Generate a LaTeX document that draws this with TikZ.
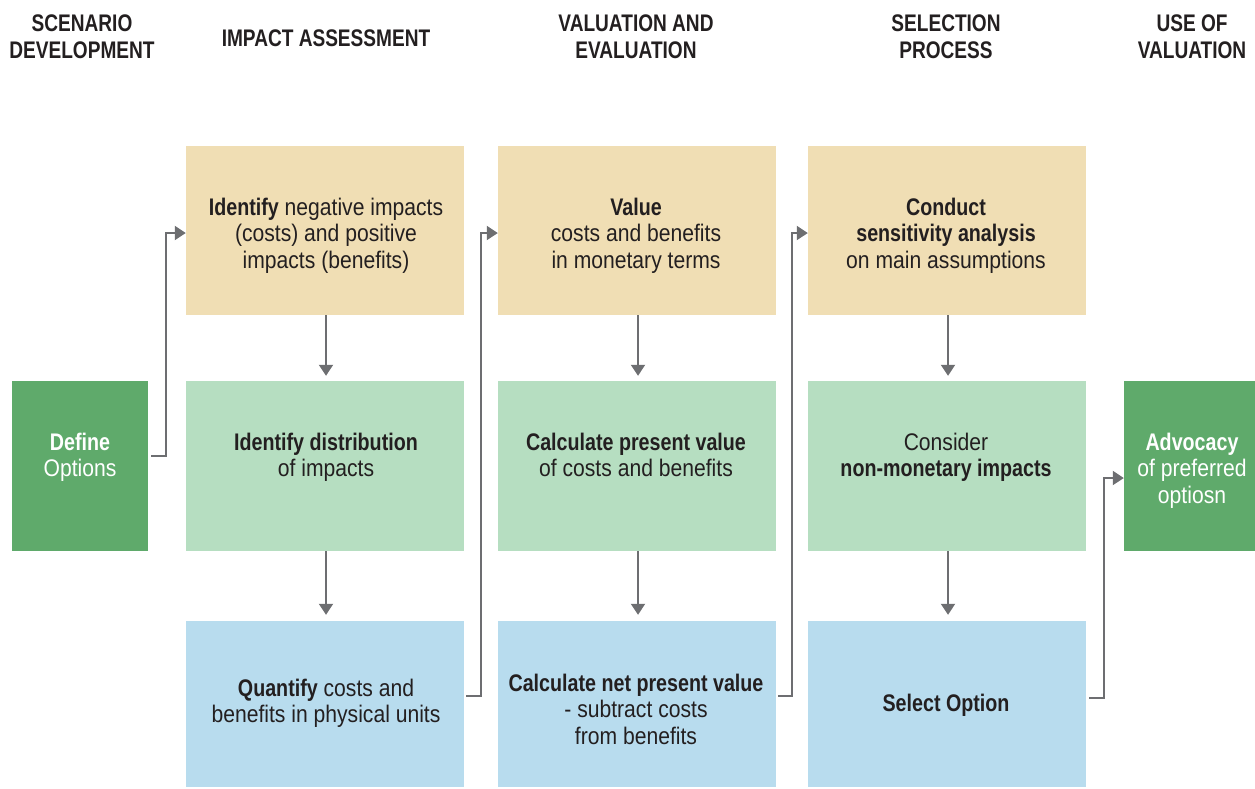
\documentclass[tikz,border=0pt]{standalone}
\usepackage{fontspec}
\setmainfont{Liberation Sans}[UprightFeatures={FakeStretch=0.88},BoldFeatures={FakeStretch=0.82}]
\newfontfamily\headfont{Liberation Sans}[FakeStretch=0.795]
\usetikzlibrary{arrows.meta}
\definecolor{cTan}{HTML}{F0DEB4}
\definecolor{cLGreen}{HTML}{B6DEC1}
\definecolor{cBlue}{HTML}{B8DCEE}
\definecolor{cDGreen}{HTML}{5FAA6B}
\definecolor{cArrow}{HTML}{6D6E71}
\definecolor{cText}{HTML}{231F20}
\begin{document}
\begin{tikzpicture}[x=1pt,y=-1pt,
  box/.style={draw=none,inner sep=0pt,minimum width=278pt},
  txt/.style={align=center,inner sep=0pt,text depth=6pt,text=cText,font=\fontsize{24}{26.5}\selectfont},
  wtxt/.style={txt,text=white},
  head/.style={align=center,inner sep=0pt,text=cText,font=\fontsize{24}{27}\selectfont\headfont\bfseries},
  arr/.style={draw=cArrow,line width=2pt,-{Triangle[length=11pt,width=14pt]}},
  elbow/.style={arr,rounded corners=0pt}]
\useasboundingbox (0,0) rectangle (1255,788);
% boxes
\node[box,fill=cTan,minimum height=169pt] (b11) at (325,230.5) {};
\node[box,fill=cTan,minimum height=169pt] (b12) at (637,230.5) {};
\node[box,fill=cTan,minimum height=169pt] (b13) at (947,230.5) {};
\node[box,fill=cLGreen,minimum height=170pt] (b21) at (325,466) {};
\node[box,fill=cLGreen,minimum height=170pt] (b22) at (637,466) {};
\node[box,fill=cLGreen,minimum height=170pt] (b23) at (947,466) {};
\node[box,fill=cBlue,minimum height=166pt] (b31) at (325,704) {};
\node[box,fill=cBlue,minimum height=166pt] (b32) at (637,704) {};
\node[box,fill=cBlue,minimum height=166pt] (b33) at (947,704) {};
\node[box,fill=cDGreen,minimum width=136pt,minimum height=170pt] (def) at (80,466) {};
\node[box,fill=cDGreen,minimum width=131pt,minimum height=170pt] (adv) at (1189.5,466) {};
% headers
\node[head] (h1) at (82,37) {SCENARIO\\DEVELOPMENT};
\node[head] (h2) at (326,38) {IMPACT ASSESSMENT};
\node[head] (h3) at (636,37) {VALUATION AND\\EVALUATION};
\node[head] (h4) at (946,37) {SELECTION\\PROCESS};
\node[head] (h5) at (1192,37) {USE OF\\VALUATION};
% texts
\node[txt] (t11) at (326,236) {\textbf{Identify} negative impacts\\(costs) and positive\\impacts (benefits)};
\node[txt] (t12) at (636,236) {\textbf{Value}\\costs and benefits\\in monetary terms};
\node[txt] (t13) at (946,236) {\textbf{Conduct}\\\textbf{sensitivity analysis}\\on main assumptions};
\node[txt] (t21) at (326,458) {\textbf{Identify distribution}\\of impacts};
\node[txt] (t22) at (636,458) {\textbf{Calculate present value}\\of costs and benefits};
\node[txt] (t23) at (946,458) {Consider\\\textbf{non-monetary impacts}};
\node[txt] (t31) at (326,704) {\textbf{Quantify} costs and\\benefits in physical units};
\node[txt] (t32) at (636,712) {\textbf{Calculate net present value}\\- subtract costs\\from benefits};
\node[txt] (t33) at (946,706) {\textbf{Select Option}};
\node[wtxt] (tdef) at (80,458) {\textbf{Define}\\Options};
\node[wtxt] (tadv) at (1192,471) {\textbf{Advocacy}\\of preferred\\optiosn};
% vertical arrows
\foreach \c in {1,2,3}{
  \draw[arr,shorten >=5pt] ([xshift=1pt]b1\c.south) -- ([xshift=1pt]b2\c.north);
  \draw[arr,shorten >=6pt] ([xshift=1pt]b2\c.south) -- ([xshift=1pt]b3\c.north);
}
% elbow connectors
\draw[elbow] ([xshift=3pt,yshift=10pt]def.east) -- ++(15,0) |- ([yshift=-2.5pt]b11.west);
\draw[elbow] ([xshift=2pt,yshift=8pt]b31.east) -- ++(15,0) |- ([yshift=-2.5pt]b12.west);
\draw[elbow] ([xshift=2pt,yshift=8pt]b32.east) -- ++(14,0) |- ([yshift=-2.5pt]b13.west);
\draw[elbow] ([xshift=3pt,yshift=6pt]b33.east) -- ++(15,0) |- ([yshift=-12pt]adv.west);
\end{tikzpicture}
\end{document}
